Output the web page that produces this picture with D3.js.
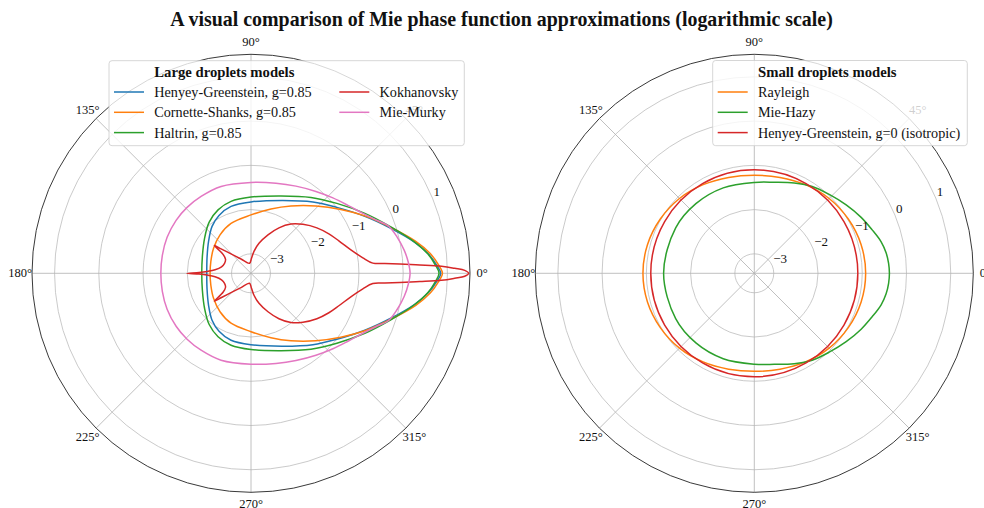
<!DOCTYPE html>
<html><head><meta charset="utf-8">
<script src="https://cdn.jsdelivr.net/npm/d3@7"></script>
<style>
body{margin:0;background:#fff;}
svg text{font-family:"Liberation Serif","Times New Roman",serif;fill:#111;}
</style></head><body>
<svg id="chart" width="984" height="508"></svg>
<script>
const chartTitle = "A visual comparison of Mie phase function approximations (logarithmic scale)";
const radialTicks = [-3, -2, -1, 0, 1];
const angleTicks = [0, 45, 90, 135, 180, 225, 270, 315];
const radialDomain = [-3.44, 1.51];

// [scattering angle in degrees, log10 of phase function] for 0..180 (mirrored for 180..360)
const hgLarge = [[0,0.849],[2.46,0.763],[6.09,0.600],[10.7,0.327],[17.82,-0.121],[26.57,-0.563],[37.5,-0.993],[49.07,-1.304],[66.33,-1.641],[90,-1.826],[106.6,-1.862],[118.9,-1.945],[129.7,-2.062],[143,-2.239],[160,-2.383],[180,-2.440]];
const cornetteShanks = [[0,0.887],[2.69,0.797],[6.29,0.636],[10.98,0.354],[17.88,-0.096],[26.77,-0.558],[35.42,-0.948],[46.08,-1.325],[59.35,-1.669],[72.77,-1.916],[90,-2.120],[111.8,-2.225],[128.85,-2.324],[146.31,-2.423],[163.38,-2.493],[180,-2.515]];
const haltrin = [[0,0.810],[2.64,0.729],[6.29,0.579],[11.11,0.309],[18.37,-0.110],[27.76,-0.532],[39.14,-0.937],[51.71,-1.254],[68.84,-1.564],[90,-1.718],[105.52,-1.753],[117.46,-1.825],[129.47,-1.949],[143.03,-2.126],[160.76,-2.276],[180,-2.327]];
const kokhanovsky = [[0,1.48],[0.8,1.391],[1.4,1.166],[2.1,0.868],[2.81,0.379],[3.53,-0.070],[4.18,-0.407],[4.78,-0.677],[7.88,-0.888],[13.22,-1.121],[20.27,-1.323],[26.86,-1.467],[34.58,-1.631],[43.3,-1.827],[50.95,-2.007],[58.39,-2.234],[66.17,-2.490],[75.07,-2.739],[82.23,-2.939],[88.09,-3.101],[98.53,-3.212],[124.97,-3.046],[135.87,-2.811],[140.76,-2.566],[142.76,-2.400],[145.84,-2.676],[151.23,-2.784],[159.33,-2.801],[167.57,-2.758],[174.45,-2.624],[177.66,-2.446],[179.12,-2.266],[180,-1.995]];
const mieMurky = [[0,0.156],[4,0.124],[8.52,0.063],[13.81,-0.035],[19.06,-0.156],[23.17,-0.371],[28.18,-0.572],[34.56,-0.754],[42.64,-0.924],[51.59,-1.078],[62.73,-1.223],[74.51,-1.327],[90,-1.386],[109.03,-1.363],[122.99,-1.368],[134.12,-1.365],[144.75,-1.367],[156.8,-1.377],[168.54,-1.395],[180,-1.402]];

const rayleigh = [[0,-0.923],[15,-0.940],[30,-0.987],[45,-1.048],[60,-1.127],[75,-1.196],[90,-1.224],[105,-1.196],[120,-1.127],[135,-1.048],[150,-0.987],[165,-0.940],[180,-0.923]];
const mieHazy = [[0,-0.386],[4.25,-0.396],[8.83,-0.425],[13.93,-0.486],[20.23,-0.601],[27.63,-0.714],[36.67,-0.851],[46.48,-0.981],[56.31,-1.080],[66.15,-1.207],[77.63,-1.333],[90,-1.386],[110,-1.386],[130,-1.386],[150,-1.388],[180,-1.390]];
const hgIsotropic = [[0,-1.10],[30,-1.10],[60,-1.10],[90,-1.10],[120,-1.10],[150,-1.10],[180,-1.10]];

const largeLegendTitle = "Large droplets models";
const smallLegendTitle = "Small droplets models";
const largeSeries = [
  {name: "Henyey-Greenstein, g=0.85", color: "#1f77b4", data: hgLarge, row: 1, col: 0},
  {name: "Cornette-Shanks, g=0.85", color: "#ff7f0e", data: cornetteShanks, row: 2, col: 0},
  {name: "Haltrin, g=0.85", color: "#2ca02c", data: haltrin, row: 3, col: 0},
  {name: "Kokhanovsky", color: "#d62728", data: kokhanovsky, row: 1, col: 1},
  {name: "Mie-Murky", color: "#e377c2", data: mieMurky, row: 2, col: 1}
];
const smallSeries = [
  {name: "Rayleigh", color: "#ff7f0e", data: rayleigh, row: 1, col: 0},
  {name: "Mie-Hazy", color: "#2ca02c", data: mieHazy, row: 2, col: 0},
  {name: "Henyey-Greenstein, g=0 (isotropic)", color: "#d62728", data: hgIsotropic, row: 3, col: 0}
];

const svg = d3.select("#chart");
const R = 219;
const rScale = d3.scaleLinear().domain(radialDomain).range([0, R]);
const toRad = d => d * Math.PI / 180;

const t = svg.append("text").attr("x", 501.5).attr("y", 25.5).attr("text-anchor", "middle")
  .attr("font-weight", "bold").attr("font-size", 17).text(chartTitle);
const tw = t.node().getComputedTextLength();
t.attr("font-size", 17 * 663 / tw);

function fullLoop(data) {
  const mirror = data.filter(([a]) => a > 0 && a < 180).map(([a, v]) => [360 - a, v]).reverse();
  return data.concat(mirror);
}

function panel(cx, cy, series, legendTitle, legendBox, colX, lineLen) {
  const g = svg.append("g").attr("transform", `translate(${cx},${cy})`);
  g.selectAll("circle.ring").data(radialTicks).join("circle").attr("class", "ring")
    .attr("r", d => rScale(d)).attr("fill", "none").attr("stroke", "#bdbdbd").attr("stroke-width", 0.8);
  g.selectAll("line.spoke").data(angleTicks).join("line").attr("class", "spoke")
    .attr("x1", 0).attr("y1", 0)
    .attr("x2", d => R * Math.cos(toRad(d))).attr("y2", d => -R * Math.sin(toRad(d)))
    .attr("stroke", "#b0b0b0").attr("stroke-width", 0.8);
  g.append("circle").attr("r", R).attr("fill", "none").attr("stroke", "#222").attr("stroke-width", 0.9);
  g.selectAll("text.ang").data(angleTicks).join("text").attr("class", "ang")
    .attr("x", d => 231 * Math.cos(toRad(d))).attr("y", d => -231 * Math.sin(toRad(d)))
    .attr("text-anchor", "middle").attr("dominant-baseline", "central").attr("font-size", 12.5)
    .text(d => d + "°");
  const line = d3.lineRadial()
    .angle(d => toRad(90 - d[0]))
    .radius(d => rScale(d[1]))
    .curve(d3.curveCatmullRomClosed.alpha(0.5));
  g.selectAll("path.curve").data(series).join("path").attr("class", "curve")
    .attr("d", d => line(fullLoop(d.data))).attr("fill", "none")
    .attr("stroke", d => d.color).attr("stroke-width", 1.5).attr("stroke-linejoin", "round");
  const la = toRad(22.5);
  g.selectAll("text.rad").data(radialTicks).join("text").attr("class", "rad")
    .attr("x", d => rScale(d) * Math.cos(la) + 1).attr("y", d => -rScale(d) * Math.sin(la) - 2.5)
    .attr("font-size", 13).text(d => d < 0 ? "\u2212" + Math.abs(d) : String(d));
  const lg = svg.append("g");
  lg.append("rect").attr("x", legendBox[0]).attr("y", legendBox[1])
    .attr("width", legendBox[2] - legendBox[0]).attr("height", legendBox[3] - legendBox[1])
    .attr("rx", 3).attr("fill", "#fff").attr("fill-opacity", 0.8).attr("stroke", "#cccccc").attr("stroke-width", 0.8);
  const rowY = i => 71.7 + i * 20.3;
  lg.append("text").attr("x", colX[0] + lineLen + 10.3).attr("y", rowY(0)).attr("dominant-baseline", "central")
    .attr("font-size", 14.7).attr("font-weight", "bold").text(legendTitle);
  const items = lg.selectAll("g.item").data(series).join("g").attr("class", "item");
  items.append("line").attr("x1", d => colX[d.col]).attr("x2", d => colX[d.col] + lineLen)
    .attr("y1", d => rowY(d.row)).attr("y2", d => rowY(d.row))
    .attr("stroke", d => d.color).attr("stroke-width", 1.5);
  items.append("text").attr("x", d => colX[d.col] + lineLen + 10.3).attr("y", d => rowY(d.row))
    .attr("dominant-baseline", "central").attr("font-size", 14.2).text(d => d.name);
}

panel(251, 273.3, largeSeries, largeLegendTitle, [109, 60.7, 464.3, 145.7], [114, 339.3], 30);
panel(754.3, 273.3, smallSeries, smallLegendTitle, [712.7, 60.5, 967.3, 145.7], [717.7], 30);
</script>
</body></html>
